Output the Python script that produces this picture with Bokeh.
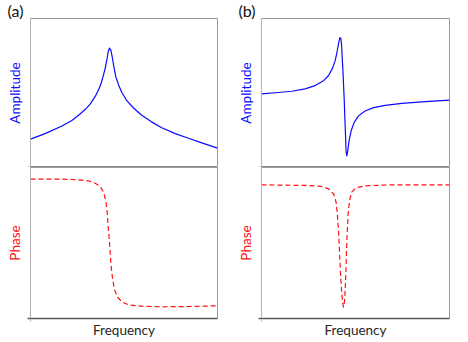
from bokeh.plotting import figure
from bokeh.layouts import row, column
from bokeh.models import Range1d, FixedTicker, Title
from bokeh.embed import file_html
from bokeh.resources import INLINE

# ---- data (frequency in % of axis, arbitrary units) ----
freq_a_amp = [0, 7.8, 16.8, 22.1, 25.7, 29.2, 31.9, 34.6, 36.4, 37.8, 39.0, 39.9,
              40.8, 41.5, 42.2, 43.0, 43.7, 44.6, 45.6, 47.1, 48.8, 51.5, 55.1,
              59.5, 64.9, 70.2, 77.4, 84.5, 91.6, 100]
amp_a = [28.7, 34.3, 42, 47.7, 53, 58.7, 64.3, 72, 78.7, 85.3, 93.7, 100.3,
         108.7, 117, 121, 118.7, 112, 102, 92, 83.7, 76.3, 67.7, 60.3,
         53, 46, 40.3, 34.3, 29.7, 25, 19.7]

freq_a_ph = [0, 16.8, 25.7, 31.0, 34.6, 37.3, 39.0, 40.3, 41.0, 41.5, 42.1, 42.6,
             43.1, 43.9, 44.9, 46.3, 48.8, 52.4, 59.5, 70.2, 84.5, 100]
ph_a = [139.3, 139.3, 138.7, 137.7, 135.3, 132, 126.7, 117.7, 106, 92.7, 79.3, 66,
        52.7, 39.3, 29.3, 22, 16.7, 13.7, 12.3, 11.7, 12, 12.7]

freq_b_amp = [0, 9.0, 16.1, 23.2, 28.5, 33.0, 35.6, 37.8, 39.2, 40.2, 41.0, 41.7,
              42.2, 42.6, 42.9, 43.3, 43.6, 44.0, 44.3, 44.7, 45.0, 45.4, 45.9,
              46.6, 47.7, 49.3, 51.6, 55.1, 59.6, 65.8, 74.6, 87.1, 100]
amp_b = [74.7, 76, 77.3, 79.7, 83, 88, 93, 100.7, 108.3, 117.3, 125.7, 131.7,
         130.7, 124, 112.3, 99, 85.7, 69, 52.3, 32.3, 15.7, 11.7, 17.3,
         27.3, 37.3, 45.7, 52.3, 57.3, 60.7, 63, 65, 66.7, 68.3]

freq_b_ph = [0, 25.0, 32.1, 35.6, 38.3, 39.7, 40.4, 41.0, 41.5, 42.0, 42.6, 43.1,
             43.6, 44.1, 44.5, 44.9, 45.2, 45.6, 46.1, 46.8, 48.0, 50.2, 55.1,
             69.3, 100]
ph_b = [133.7, 133, 132, 129.7, 124.7, 116.3, 103, 86.3, 66.3, 46.3, 28, 16.3,
        11.3, 16.3, 28, 46.3, 66.3, 86.3, 104.7, 118, 126.3, 130.7, 132.7,
        133.7, 133.7]

panel_labels = ["(a)", "(b)"]
y_labels = ["Amplitude", "Phase"]
x_label = "Frequency"

FONT = "Lato"
BLUE = "#0a0aff"
RED = "#ff1010"
DARK = "#595959"
LIGHT = "#b4b4b4"


def make(width, height, bl, br, bt, bb, ylabel, ycolor, xlabel, xtick, title=None):
    p = figure(width=width, height=height, x_range=Range1d(0, 100),
               y_range=Range1d(0, 151), output_backend="svg",
               toolbar_location=None, min_border_left=bl, min_border_right=br,
               min_border_top=bt, min_border_bottom=bb)
    p.grid.visible = False
    p.outline_line_color = "#9a9a9a"
    p.outline_line_width = 1
    p.background_fill_color = "white"
    p.border_fill_color = "white"

    if title:
        p.title = Title(text=title, align="left", offset=-23, standoff=-3,
                        text_font=FONT, text_font_size="16px",
                        text_font_style="normal", text_color="#111111")

    xa = p.xaxis[0]
    xa.ticker = FixedTicker(ticks=[0] if xtick else [])
    xa.major_label_overrides = {0: ""}
    xa.major_label_standoff = 0
    xa.minor_tick_line_color = None
    xa.major_tick_in = 0
    xa.major_tick_out = 3 if xtick else 0
    xa.major_tick_line_color = LIGHT
    xa.axis_line_color = DARK
    xa.axis_line_width = 1.5
    if xlabel:
        xa.axis_label = xlabel
        xa.axis_label_text_font = FONT
        xa.axis_label_text_font_style = "normal"
        xa.axis_label_text_font_size = "13.5px"
        xa.axis_label_text_color = "#262626"
        xa.axis_label_standoff = 0

    ya = p.yaxis[0]
    ya.ticker = FixedTicker(ticks=[0])
    ya.major_label_overrides = {0: ""}
    ya.major_label_standoff = 0
    ya.minor_tick_line_color = None
    ya.major_tick_in = 0
    ya.major_tick_out = 3
    ya.major_tick_line_color = DARK
    ya.major_tick_line_width = 1.5
    ya.axis_line_color = LIGHT
    ya.axis_label = ylabel
    ya.axis_label_text_font = FONT
    ya.axis_label_text_font_style = "normal"
    ya.axis_label_text_font_size = "13.5px"
    ya.axis_label_text_color = ycolor
    ya.axis_label_standoff = 5
    return p


aT = make(230, 167, 30, 13, 16, 0, y_labels[0], BLUE, None, False, panel_labels[0])
aB = make(230, 175, 30, 13, 0, 24, y_labels[1], RED, x_label, True)
bT = make(238, 167, 31, 19, 16, 0, y_labels[0], BLUE, None, False, panel_labels[1])
bB = make(238, 175, 31, 19, 0, 24, y_labels[1], RED, x_label, True)

aT.line(freq_a_amp, amp_a, line_color=BLUE, line_width=1.2, line_join="round")
bT.line(freq_b_amp, amp_b, line_color=BLUE, line_width=1.2, line_join="round")
aB.line(freq_a_ph, ph_a, line_color=RED, line_width=1.2, line_dash="5 3",
        line_join="round")
bB.line(freq_b_ph, ph_b, line_color=RED, line_width=1.2, line_dash="5 3",
        line_join="round")

layout = column(row(aT, bT), row(aB, bB))

open("out.html", "w").write(file_html(layout, INLINE))
